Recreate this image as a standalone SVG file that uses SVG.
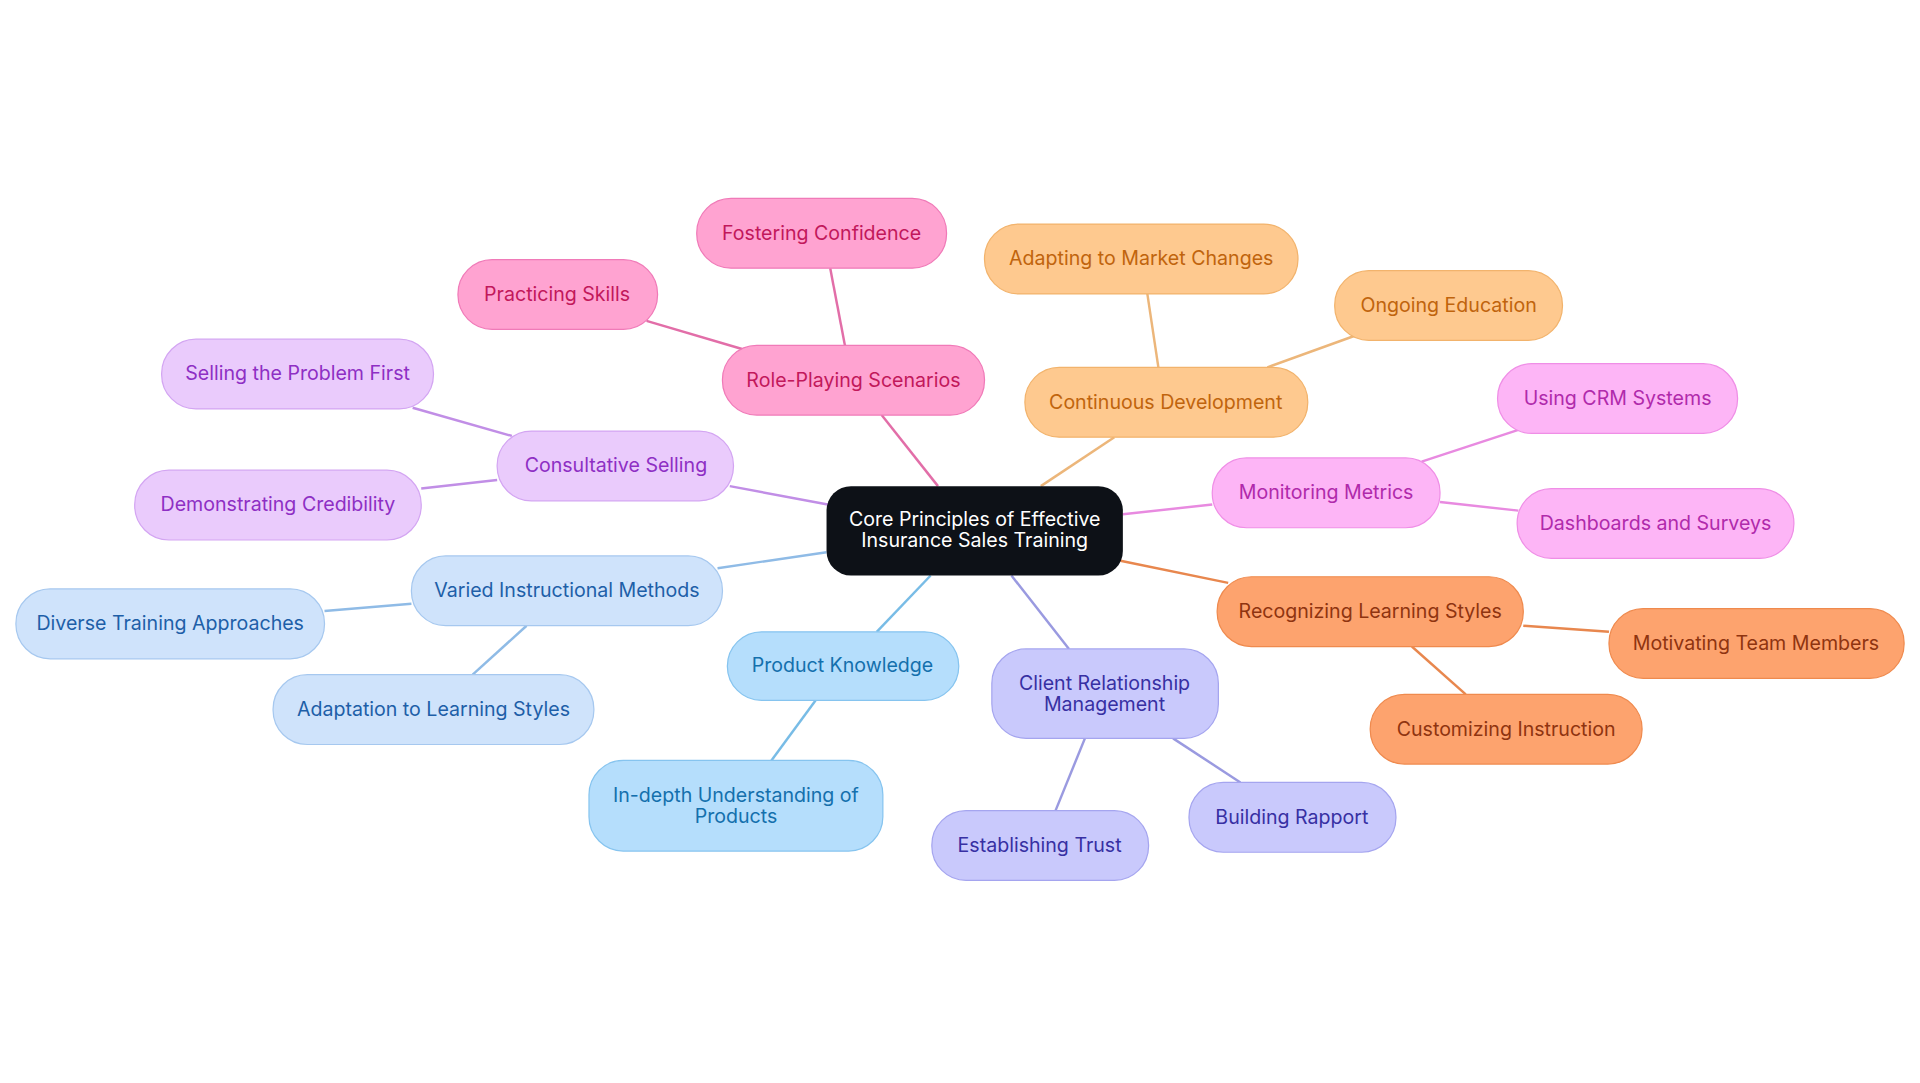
<svg xmlns="http://www.w3.org/2000/svg" width="1920" height="1083" viewBox="0 0 1920 1083">
<style>
text{font-family:Inter,"Noto Sans",sans-serif;font-size:16px;text-anchor:middle;dominant-baseline:central}
.e line{stroke-width:2}
</style>
<rect width="1920" height="1083" fill="#fff"/>
<g transform="scale(1.2245)">
<g id="connectors" class="e">
<line x1="766" y1="397" x2="720" y2="339" stroke="#e26ea8"/>
<line x1="690" y1="282" x2="678" y2="219" stroke="#e26ea8"/>
<line x1="606" y1="285" x2="528" y2="262" stroke="#e26ea8"/>
<line x1="676" y1="412" x2="596" y2="397" stroke="#c18ee6"/>
<line x1="418" y1="356" x2="337" y2="333" stroke="#c18ee6"/>
<line x1="406" y1="392" x2="344" y2="399" stroke="#c18ee6"/>
<line x1="675" y1="451" x2="586" y2="464" stroke="#8fbbe6"/>
<line x1="336" y1="493" x2="265" y2="499" stroke="#8fbbe6"/>
<line x1="430" y1="511" x2="386" y2="551" stroke="#8fbbe6"/>
<line x1="760" y1="470" x2="716" y2="516" stroke="#78bce6"/>
<line x1="666" y1="572" x2="630" y2="621" stroke="#78bce6"/>
<line x1="826" y1="470" x2="873" y2="530" stroke="#9a9ae0"/>
<line x1="886" y1="603" x2="862" y2="662" stroke="#9a9ae0"/>
<line x1="958" y1="603" x2="1013" y2="639" stroke="#9a9ae0"/>
<line x1="915" y1="458" x2="1003" y2="476" stroke="#e8874e"/>
<line x1="1244" y1="511" x2="1314" y2="516" stroke="#e8874e"/>
<line x1="1153" y1="528" x2="1197" y2="567" stroke="#e8874e"/>
<line x1="917" y1="420" x2="990" y2="412" stroke="#e88ae0"/>
<line x1="1161" y1="377" x2="1240" y2="351" stroke="#e88ae0"/>
<line x1="1176" y1="410" x2="1240" y2="417" stroke="#e88ae0"/>
<line x1="850" y1="397" x2="910" y2="357" stroke="#ecb67a"/>
<line x1="946" y1="300" x2="937" y2="240" stroke="#ecb67a"/>
<line x1="1035" y1="300" x2="1107" y2="274" stroke="#ecb67a"/>
</g>
<g id="center"><rect x="675" y="397" width="242" height="73" rx="20" fill="#0d1117"/><text x="796" y="424" fill="#fff">Core Principles of Effective</text><text x="796" y="441" fill="#fff">Insurance Sales Training</text></g>
<g id="role"><rect x="590" y="282" width="214" height="57" rx="28" fill="#ffa3d1" stroke="#f07ab8"/><text x="697" y="310" fill="#c2185b">Role-Playing Scenarios</text></g>
<g id="fostering"><rect x="569" y="162" width="204" height="57" rx="28" fill="#ffa3d1" stroke="#f07ab8"/><text x="671" y="190" fill="#c2185b">Fostering Confidence</text></g>
<g id="practicing"><rect x="374" y="212" width="163" height="57" rx="28" fill="#ffa3d1" stroke="#f07ab8"/><text x="455" y="240" fill="#c2185b">Practicing Skills</text></g>
<g id="consult"><rect x="406" y="352" width="193" height="57" rx="28" fill="#eacbfc" stroke="#d3a5f2"/><text x="503" y="380" fill="#8e2fc4">Consultative Selling</text></g>
<g id="selling"><rect x="132" y="277" width="222" height="57" rx="28" fill="#eacbfc" stroke="#d3a5f2"/><text x="243" y="305" fill="#8e2fc4">Selling the Problem First</text></g>
<g id="demo"><rect x="110" y="384" width="234" height="57" rx="28" fill="#eacbfc" stroke="#d3a5f2"/><text x="227" y="412" fill="#8e2fc4">Demonstrating Credibility</text></g>
<g id="varied"><rect x="336" y="454" width="254" height="57" rx="28" fill="#cfe3fb" stroke="#a6c8ef"/><text x="463" y="482" fill="#1e5fa8">Varied Instructional Methods</text></g>
<g id="diverse"><rect x="13" y="481" width="252" height="57" rx="28" fill="#cfe3fb" stroke="#a6c8ef"/><text x="139" y="509" fill="#1e5fa8">Diverse Training Approaches</text></g>
<g id="adapt"><rect x="223" y="551" width="262" height="57" rx="28" fill="#cfe3fb" stroke="#a6c8ef"/><text x="354" y="579" fill="#1e5fa8">Adaptation to Learning Styles</text></g>
<g id="product"><rect x="594" y="516" width="189" height="56" rx="28" fill="#b5defc" stroke="#86c4ef"/><text x="688" y="543" fill="#1470ad">Product Knowledge</text></g>
<g id="indepth"><rect x="481" y="621" width="240" height="74" rx="28" fill="#b5defc" stroke="#86c4ef"/><text x="601" y="649" fill="#1470ad">In-depth Understanding of</text><text x="601" y="666" fill="#1470ad">Products</text></g>
<g id="client"><rect x="810" y="530" width="185" height="73" rx="28" fill="#c9c9fc" stroke="#a5a5ef"/><text x="902" y="558" fill="#3730a3">Client Relationship</text><text x="902" y="575" fill="#3730a3">Management</text></g>
<g id="trust"><rect x="761" y="662" width="177" height="57" rx="28" fill="#c9c9fc" stroke="#a5a5ef"/><text x="849" y="690" fill="#3730a3">Establishing Trust</text></g>
<g id="rapport"><rect x="971" y="639" width="169" height="57" rx="28" fill="#c9c9fc" stroke="#a5a5ef"/><text x="1055" y="667" fill="#3730a3">Building Rapport</text></g>
<g id="recog"><rect x="994" y="471" width="250" height="57" rx="28" fill="#fda36e" stroke="#ef8a4e"/><text x="1119" y="499" fill="#8f3410">Recognizing Learning Styles</text></g>
<g id="motiv"><rect x="1314" y="497" width="241" height="57" rx="28" fill="#fda36e" stroke="#ef8a4e"/><text x="1434" y="525" fill="#8f3410">Motivating Team Members</text></g>
<g id="custom"><rect x="1119" y="567" width="222" height="57" rx="28" fill="#fda36e" stroke="#ef8a4e"/><text x="1230" y="595" fill="#8f3410">Customizing Instruction</text></g>
<g id="monitor"><rect x="990" y="374" width="186" height="57" rx="28" fill="#fdb5f6" stroke="#ef8ee6"/><text x="1083" y="402" fill="#b02aab">Monitoring Metrics</text></g>
<g id="crm"><rect x="1223" y="297" width="196" height="57" rx="28" fill="#fdb5f6" stroke="#ef8ee6"/><text x="1321" y="325" fill="#b02aab">Using CRM Systems</text></g>
<g id="dash"><rect x="1239" y="399" width="226" height="57" rx="28" fill="#fdb5f6" stroke="#ef8ee6"/><text x="1352" y="427" fill="#b02aab">Dashboards and Surveys</text></g>
<g id="cont"><rect x="837" y="300" width="231" height="57" rx="28" fill="#fec98f" stroke="#f2b36c"/><text x="952" y="328" fill="#c0640d">Continuous Development</text></g>
<g id="market"><rect x="804" y="183" width="256" height="57" rx="28" fill="#fec98f" stroke="#f2b36c"/><text x="932" y="211" fill="#c0640d">Adapting to Market Changes</text></g>
<g id="ongoing"><rect x="1090" y="221" width="186" height="57" rx="28" fill="#fec98f" stroke="#f2b36c"/><text x="1183" y="249" fill="#c0640d">Ongoing Education</text></g>
</g>
</svg>
